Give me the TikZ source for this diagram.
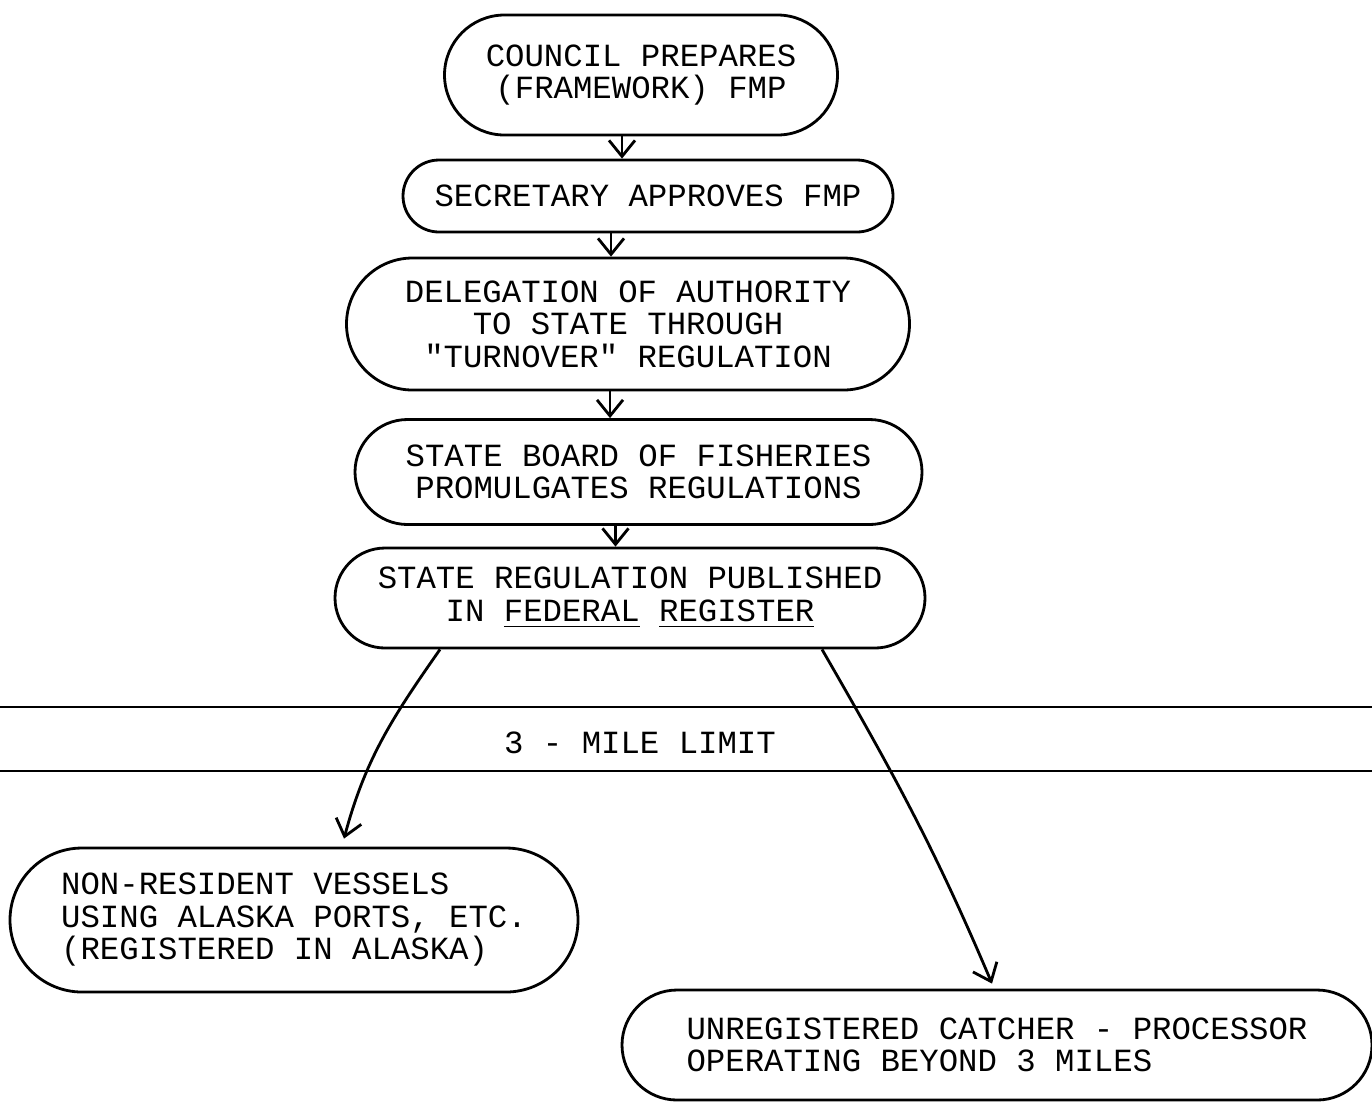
\documentclass[tikz,border=0pt]{standalone}
\usepackage{fontspec}
\setmonofont{Liberation Mono}
\usepackage{tikz}
\usetikzlibrary{shapes.misc, arrows.meta, positioning, calc}
\tikzset{
  blob/.style={rounded rectangle, draw, line width=0.8pt, inner sep=0pt,
    font=\ttfamily\fontsize{9.2}{9.25}\selectfont, align=center},
  arr/.style={-{Straight Barb[length=1.6mm, width=2.6mm]}, line width=0.8pt},
  limit/.style={line width=0.6pt}
}
\begin{document}
\begin{tikzpicture}
  \useasboundingbox (0,0) rectangle (137.2mm,-110.2mm);
  \node[blob, minimum width=39.3mm, minimum height=12mm] (council) at (64.1mm,-7.5mm) {COUNCIL PREPARES\\(FRAMEWORK) FMP};
  \node[blob, minimum width=49mm, minimum height=7.2mm] (secretary) at (64.8mm,-19.6mm) {SECRETARY APPROVES FMP};
  \node[blob, minimum width=56.3mm, minimum height=13.2mm] (delegation) at (62.8mm,-32.4mm) {DELEGATION OF AUTHORITY\\TO STATE THROUGH\\"TURNOVER" REGULATION};
  \node[blob, minimum width=56.7mm, minimum height=10.5mm] (board) at (63.85mm,-47.2mm) {STATE BOARD OF FISHERIES\\PROMULGATES REGULATIONS};
  \node[blob, minimum width=59mm, minimum height=10mm] (published) at (63mm,-59.8mm) {STATE REGULATION PUBLISHED\\IN \underline{FEDERAL} \underline{REGISTER}};
  \node[blob, align=left, minimum width=56.8mm, minimum height=14.4mm] (nonres) at (29.4mm,-92mm) {NON-RESIDENT VESSELS\\USING ALASKA PORTS, ETC.\\(REGISTERED IN ALASKA)};
  \node[blob, align=left, minimum width=75mm, minimum height=11mm] (unreg) at (99.7mm,-104.5mm) {UNREGISTERED CATCHER - PROCESSOR\\OPERATING BEYOND 3 MILES};
  \coordinate (limtopw) at (0,-70.7mm);
  \coordinate (limtope) at (137.2mm,-70.7mm);
  \coordinate (limbotw) at (0,-77.1mm);
  \coordinate (limbote) at (137.2mm,-77.1mm);
  \draw[limit] (limtopw) -- (limtope);
  \draw[limit] (limbotw) -- (limbote);
  \node[font=\ttfamily\fontsize{9.2}{9.25}\selectfont] (mile) at (64mm,-74.3mm) {3 - MILE LIMIT};
  \draw[arr] ([xshift=-1.9mm]council.south) -- ([xshift=-1.9mm]council.south |- secretary.north);
  \draw[arr] ([xshift=-3.7mm]secretary.south) -- ([xshift=-3.7mm]secretary.south |- delegation.north);
  \draw[arr] ([xshift=-1.8mm]delegation.south) -- ([xshift=-1.8mm]delegation.south |- board.north);
  \draw[arr] ([xshift=-2.3mm]board.south) -- ([xshift=-2.3mm]board.south |- published.north);
  \draw[arr] ([xshift=-19mm]published.south) to[out=-125, in=75] ([xshift=5mm,yshift=0.8mm]nonres.north);
  \draw[arr] ([xshift=19.2mm]published.south) to[out=-60, in=113] ([xshift=-0.5mm,yshift=0.5mm]unreg.north);
\end{tikzpicture}
\end{document}
